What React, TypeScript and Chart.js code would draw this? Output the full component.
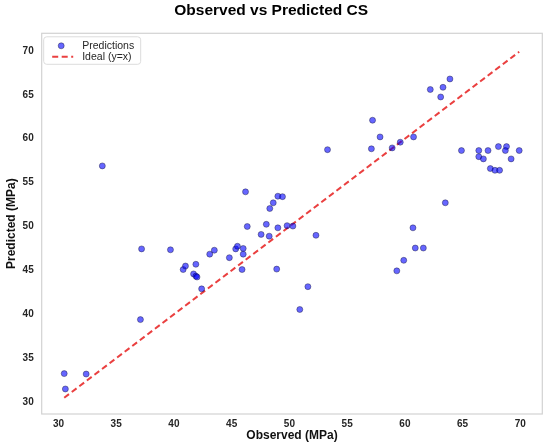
import { useEffect, useRef } from "react";
import { Chart, registerables } from "chart.js";

Chart.register(...registerables);

// observed vs predicted compressive strength (MPa)
const observed = [
  30.5, 30.6, 32.4, 33.8, 37.1, 37.2, 39.7, 40.8, 41.0, 41.9,
  41.7, 41.9, 42.0, 42.4, 43.1, 43.5, 44.8, 45.35, 45.5, 46.0,
  46.0, 45.9, 46.35, 46.2, 47.55, 48.0, 48.25, 48.3, 48.6, 49.0,
  49.4, 48.9, 49.0, 49.8, 50.3, 52.3, 51.6, 50.9, 53.3, 57.2,
  57.85, 57.1, 58.9, 59.6, 60.75, 62.2, 63.3, 63.1, 63.9, 63.5,
  59.3, 59.9, 60.7, 60.9, 61.6, 64.9, 66.4, 67.2, 68.1, 68.8,
  68.7, 69.9, 66.4, 66.8, 69.2, 67.4, 67.8, 68.2,
];
const predicted = [
  33.25, 31.5, 33.2, 56.9, 39.4, 47.45, 47.35, 45.1, 45.5, 45.7,
  44.6, 44.35, 44.25, 42.9, 46.85, 47.3, 46.45, 47.45, 47.75, 47.5,
  46.85, 45.1, 50.0, 53.95, 49.1, 50.25, 48.9, 52.05, 52.7, 53.45,
  53.4, 45.15, 49.85, 50.1, 50.05, 49.0, 43.15, 40.55, 58.75, 62.1,
  60.2, 58.85, 58.95, 59.6, 60.2, 65.6, 65.85, 64.75, 66.8, 52.7,
  44.95, 46.15, 49.85, 47.55, 47.55, 58.65, 58.65, 58.65, 59.1, 59.1,
  58.65, 58.65, 57.95, 57.7, 57.7, 56.6, 56.4, 56.4,
];
const axisTicks = [30, 35, 40, 45, 50, 55, 60, 65, 70];

const FONT = "'Liberation Sans', Arial, sans-serif";
const POINT_FILL = "rgba(0, 0, 255, 0.6)";
const POINT_EDGE = "rgba(10, 10, 40, 0.65)";
const IDEAL_COLOR = "rgba(230, 30, 30, 0.85)";

// light grey box round the plotting area
const framePlugin = {
  id: "frame",
  beforeDatasetsDraw(chart: any) {
    const { ctx, chartArea: a } = chart;
    ctx.save();
    ctx.strokeStyle = "#d2d2d2";
    ctx.lineWidth = 1.2;
    ctx.strokeRect(a.left, a.top, a.right - a.left, a.bottom - a.top);
    ctx.restore();
  },
};

// matplotlib-style legend box in the upper left corner
const legendBoxPlugin = {
  id: "legendBox",
  afterDatasetsDraw(chart: any) {
    const { ctx, chartArea: a } = chart;
    const x = a.left + 2;
    const y = a.top + 3.5;
    const w = 97;
    const h = 27.5;
    ctx.save();
    ctx.fillStyle = "rgba(255,255,255,0.85)";
    ctx.strokeStyle = "#dcdcdc";
    ctx.lineWidth = 1;
    ctx.beginPath();
    ctx.roundRect(x, y, w, h, 3);
    ctx.fill();
    ctx.stroke();

    const sets = chart.data.datasets;
    // marker
    ctx.beginPath();
    ctx.arc(x + 17.5, y + 9, 3, 0, Math.PI * 2);
    ctx.fillStyle = POINT_FILL;
    ctx.fill();
    ctx.strokeStyle = POINT_EDGE;
    ctx.lineWidth = 0.6;
    ctx.stroke();
    // dashed line sample
    ctx.beginPath();
    ctx.setLineDash([6, 3.5]);
    ctx.strokeStyle = IDEAL_COLOR;
    ctx.lineWidth = 2;
    ctx.moveTo(x + 8.5, y + 20);
    ctx.lineTo(x + 29.5, y + 20);
    ctx.stroke();
    ctx.setLineDash([]);

    ctx.fillStyle = "#262626";
    ctx.font = `10.5px ${FONT}`;
    ctx.textBaseline = "middle";
    ctx.textAlign = "left";
    ctx.fillText(sets[0].label, x + 38.5, y + 9);
    ctx.fillText(sets[1].label, x + 38.5, y + 20);
    ctx.restore();
  },
};

export default function App() {
  const canvasRef = useRef<HTMLCanvasElement>(null);
  const chartRef = useRef<any>(null);

  useEffect(() => {
    if (chartRef.current) chartRef.current.destroy();
    const ctx = canvasRef.current?.getContext("2d");
    if (!ctx) return;

    const points = observed.map((x, i) => ({ x, y: predicted[i] }));
    const lo = Math.min(...observed);
    const hi = Math.max(...observed);

    const tickFont = { family: FONT, size: 10, weight: "bold" as const };
    const titleFont = { family: FONT, size: 12, weight: "bold" as const };

    const config: any = {
      type: "scatter",
      data: {
        datasets: [
          {
            label: "Predictions",
            data: points,
            backgroundColor: POINT_FILL,
            borderColor: POINT_EDGE,
            borderWidth: 0.6,
            pointRadius: 3,
          },
          {
            type: "line",
            label: "Ideal (y=x)",
            data: [
              { x: lo, y: lo },
              { x: hi, y: hi },
            ],
            borderColor: IDEAL_COLOR,
            borderWidth: 2,
            borderDash: [6, 3.5],
            pointRadius: 0,
            fill: false,
          },
        ],
      },
      options: {
        animation: false,
        responsive: true,
        maintainAspectRatio: false,
        layout: { padding: { left: 0, right: 7.7, top: 0, bottom: 0 } },
        plugins: {
          legend: { display: false },
          tooltip: { enabled: false },
          title: {
            display: true,
            text: "Observed vs Predicted CS",
            color: "#000",
            font: { family: FONT, size: 15.5, weight: "bold" },
            padding: { top: 1.5, bottom: 13.2 },
          },
        },
        scales: {
          x: {
            type: "linear",
            min: 28.55,
            max: 71.9,
            afterBuildTicks: (s: any) => {
              s.ticks = axisTicks.map((value) => ({ value }));
            },
            afterFit: (s: any) => {
              s.height = 31;
            },
            grid: { display: false, drawTicks: false },
            border: { display: false },
            ticks: { color: "#262626", font: tickFont, padding: 4.5 },
            title: {
              display: true,
              text: "Observed (MPa)",
              color: "#111",
              font: titleFont,
              padding: { top: 0, bottom: 2 },
            },
          },
          y: {
            type: "linear",
            min: 28.65,
            max: 72,
            afterBuildTicks: (s: any) => {
              s.ticks = axisTicks.map((value) => ({ value }));
            },
            afterFit: (s: any) => {
              s.width = 41.7;
            },
            grid: { display: false, drawTicks: false },
            border: { display: false },
            ticks: { color: "#262626", font: tickFont, padding: 8 },
            title: {
              display: true,
              text: "Predicted (MPa)",
              color: "#111",
              font: titleFont,
              padding: { top: 4.8, bottom: 0 },
            },
          },
        },
      },
      plugins: [framePlugin, legendBoxPlugin],
    };

    chartRef.current = new Chart(ctx, config);
    return () => {
      if (chartRef.current) {
        chartRef.current.destroy();
        chartRef.current = null;
      }
    };
  }, []);

  return (
    <div style={{ position: "absolute", left: 0, top: 0, width: 550, height: 445, background: "#fff" }}>
      <canvas ref={canvasRef} />
    </div>
  );
}
